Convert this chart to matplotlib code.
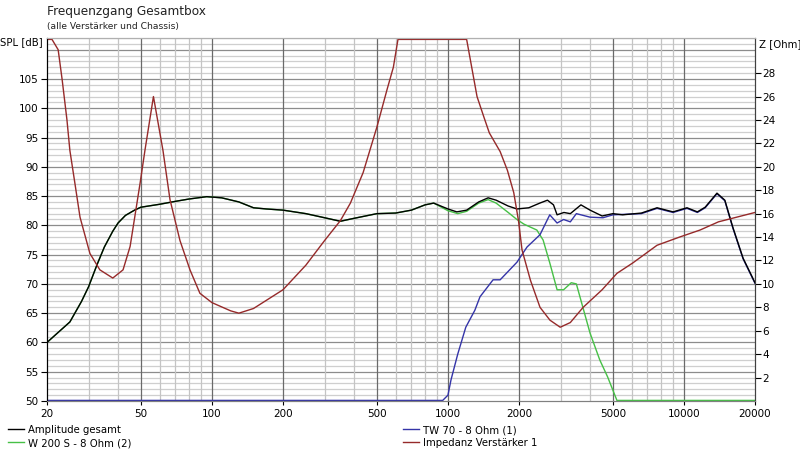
import numpy as np
import matplotlib
matplotlib.use("Agg")
import matplotlib.pyplot as plt
from matplotlib.ticker import FixedLocator
from matplotlib.lines import Line2D

# Amplitude gesamt (Hz, dB)
sum_freq = [20, 22, 25, 28, 30, 32.6, 35, 38, 40, 43, 47, 50, 60, 70, 80, 95, 110, 130,
            150, 170, 200, 250, 300, 350, 400, 500, 600, 700, 800, 870, 1000, 1090,
            1200, 1350, 1480, 1600, 1800, 1960, 2200, 2450, 2640, 2800, 2900, 3100,
            3300, 3660, 4000, 4500, 5000, 5500, 6600, 7690, 8990, 10300, 11400,
            12300, 13800, 14900, 16100, 17800, 20000]
sum_db = [60, 61.5, 63.5, 67, 69.5, 73.3, 76.3, 79.0, 80.4, 81.7, 82.6, 83.1, 83.6, 84.1,
          84.5, 84.9, 84.7, 84.0, 83.0, 82.8, 82.6, 82.0, 81.3, 80.7, 81.2, 82.0,
          82.1, 82.6, 83.5, 83.8, 82.8, 82.3, 82.6, 84.0, 84.7, 84.3, 83.3, 82.8,
          83.0, 83.8, 84.3, 83.5, 81.8, 82.2, 82.0, 83.5, 82.6, 81.6, 82.0, 81.8,
          82.1, 83.0, 82.3, 83.0, 82.3, 83.1, 85.5, 84.3, 79.7, 74.4, 70.2]

# W 200 S - 8 Ohm (2)
woof_freq = [20, 22, 25, 28, 30, 32.6, 35, 38, 40, 43, 47, 50, 60, 70, 80, 95, 110, 130,
             150, 170, 200, 250, 300, 350, 400, 500, 600, 700, 800, 870, 1000, 1100,
             1200, 1350, 1480, 1600, 1800, 1960, 2100, 2380, 2530, 2700, 2900, 3090,
             3330, 3500, 4000, 4400, 4750, 5200, 6000, 20000]
woof_db = [60, 61.5, 63.5, 67, 69.5, 73.3, 76.3, 79.0, 80.4, 81.7, 82.6, 83.1, 83.6, 84.1,
           84.5, 84.9, 84.7, 84.0, 83.0, 82.8, 82.6, 82.0, 81.3, 80.7, 81.2, 82.0,
           82.1, 82.6, 83.5, 83.8, 82.5, 82.0, 82.4, 83.8, 84.4, 83.8, 82.2, 81.0,
           80.2, 79.2, 77.5, 73.6, 69.0, 69.0, 70.2, 70.0, 61.6, 57.0, 54.1, 50.0,
           50.0, 50.0]

# TW 70 - 8 Ohm (1)
tw_freq = [20, 950, 1000, 1030, 1100, 1190, 1300, 1367, 1553, 1664, 1960, 2163,
           2455, 2700, 2900, 3090, 3300, 3500, 4000, 4540, 5000, 6600, 7690, 8990,
           10300, 11400, 12300, 13800, 14900, 16100, 17800, 20000]
tw_db = [50, 50, 51, 53.6, 58, 62.6, 65.5, 67.8, 70.7, 70.7, 73.7, 76.3, 78.4, 81.8,
         80.4, 81.0, 80.6, 82.0, 81.4, 81.3, 81.8, 82.0, 82.9, 82.2, 82.9, 82.2,
         83.0, 85.4, 84.2, 79.6, 74.3, 70.1]

# Impedanz Verstärker 1 (Hz, Ohm) - runs off the top of the scale
imp_freq = [20, 21, 22.3, 23.2, 24.3, 25, 26.3, 27.6, 30.4, 33.5, 38, 42, 45, 49.6,
            52, 56.5, 62, 66.4, 73.2, 80.7, 88.9, 100, 120, 130, 150, 200, 250, 300,
            350, 386, 437, 500, 552, 587, 614, 1200, 1328, 1417, 1497, 1664, 1786,
            1900, 1990, 2060, 2237, 2455, 2706, 2990, 3300, 3740, 4500, 5200, 6080,
            7690, 9580, 11700, 14000, 20000]
imp_ohm = [32, 31.5, 30, 27.4, 24, 21.4, 18.5, 15.7, 12.6, 11.2, 10.5, 11.2, 13.2,
           18.6, 21.4, 26, 21.4, 17.2, 13.7, 11.2, 9.2, 8.4, 7.7, 7.5, 7.9, 9.5, 11.6,
           13.7, 15.4, 16.9, 19.5, 23.4, 26.6, 28.5, 32, 32, 26, 24.3, 22.9, 21.3,
           19.7, 17.8, 15.4, 12.9, 10.3, 8.0, 6.9, 6.3, 6.7, 8.0, 9.5, 10.9, 11.8,
           13.3, 14.0, 14.6, 15.3, 16.1]

x_ticks = [20, 50, 100, 200, 500, 1000, 2000, 5000, 10000, 20000]
spl_ticks = [50, 55, 60, 65, 70, 75, 80, 85, 90, 95, 100, 105]
z_ticks = [2, 4, 6, 8, 10, 12, 14, 16, 18, 20, 22, 24, 26, 28]

SPL_MIN, SPL_MAX = 50, 112
Z_MIN, Z_MAX = 0, 31

plt.rcParams['font.family'] = ['DejaVu Sans']
fig = plt.figure(figsize=(8, 4.61), dpi=100)
ax = fig.add_axes([47 / 800, 1 - 401 / 461, 708 / 800, 363 / 461])
ax.set_xscale('log')
ax.set_xlim(20, 20000)
ax.set_ylim(SPL_MIN, SPL_MAX)

# grid
for v in range(SPL_MIN + 1, SPL_MAX + 1):
    if v % 5 == 0:
        ax.axhline(v, color='#8c8c8c', lw=0.9, zorder=0)
    else:
        ax.axhline(v, color='#cfcfcf', lw=0.9, zorder=0)
minor_x = []
for dec in [10, 100, 1000, 10000]:
    for m in range(1, 10):
        f = dec * m
        if 20 < f < 20000 and f not in x_ticks:
            minor_x.append(f)
for f in minor_x:
    ax.axvline(f, color='#c4c4c4', lw=0.9, zorder=0)
for f in x_ticks[1:-1]:
    ax.axvline(f, color='#6a6a6a', lw=0.9, zorder=0)

clip = lambda a, lo, hi: np.clip(np.array(a, dtype=float), lo, hi)

ax.plot(woof_freq, clip(woof_db, SPL_MIN + 0.1, SPL_MAX), color='#46c046', lw=1.0, zorder=2)
ax.plot(tw_freq, clip(tw_db, SPL_MIN + 0.1, SPL_MAX), color='#3434a8', lw=1.0, zorder=2)
ax.plot(sum_freq, clip(sum_db, SPL_MIN, SPL_MAX), color='#000000', lw=1.0, zorder=4)

ax2 = ax.twinx()
ax2.set_ylim(Z_MIN, Z_MAX)
ax2.plot(imp_freq, clip(imp_ohm, Z_MIN, Z_MAX - 0.12), color='#962a2a', lw=1.0)

# ticks
ax.xaxis.set_major_locator(FixedLocator(x_ticks))
ax.xaxis.set_minor_locator(FixedLocator([]))
ax.set_xticklabels([str(t) for t in x_ticks])
ax.set_yticks(spl_ticks)
ax.tick_params(axis='both', labelsize=7.5, length=4, width=0.8, color='#000000', pad=2)
ax.tick_params(axis='x', length=3, pad=3)
ax2.set_yticks(z_ticks)
ax2.tick_params(axis='y', labelsize=7.5, length=4, width=0.8, pad=1)

for a in (ax, ax2):
    a.spines['top'].set_color('#b0b0b0')
    a.spines['left'].set_color('#000000')
    a.spines['right'].set_color('#404040')
    a.spines['bottom'].set_color('#808080')
    for s in a.spines.values():
        s.set_linewidth(0.8)

# texts
fig.text(47 / 800, 1 - 12 / 461, 'Frequenzgang Gesamtbox', fontsize=8.7,
         ha='left', va='center', color='#222222')
fig.text(47 / 800, 1 - 27 / 461, '(alle Verstärker und Chassis)', fontsize=6.6,
         ha='left', va='center', color='#222222')
fig.text(43 / 800, 1 - 42 / 461, 'SPL [dB]', fontsize=7.3, ha='right', va='center')
fig.text(759 / 800, 1 - 44 / 461, 'Z [Ohm]', fontsize=7.3, ha='left', va='center')

# legend
def legend_block(x, entries):
    handles = [Line2D([], [], color=c, lw=1.0) for c, _ in entries]
    labels = [t for _, t in entries]
    return fig.legend(handles, labels, loc='upper left',
                      bbox_to_anchor=(x / 800, 1 - 425 / 461), frameon=False,
                      fontsize=7.3, handlelength=1.6, handletextpad=0.4,
                      labelspacing=0.3, borderpad=0, borderaxespad=0)

legend_block(8, [('#000000', 'Amplitude gesamt'), ('#46c046', 'W 200 S - 8 Ohm (2)')])
legend_block(403, [('#3434a8', 'TW 70 - 8 Ohm (1)'), ('#962a2a', 'Impedanz Verstärker 1')])

fig.savefig('out.png', dpi=100, facecolor='white')
